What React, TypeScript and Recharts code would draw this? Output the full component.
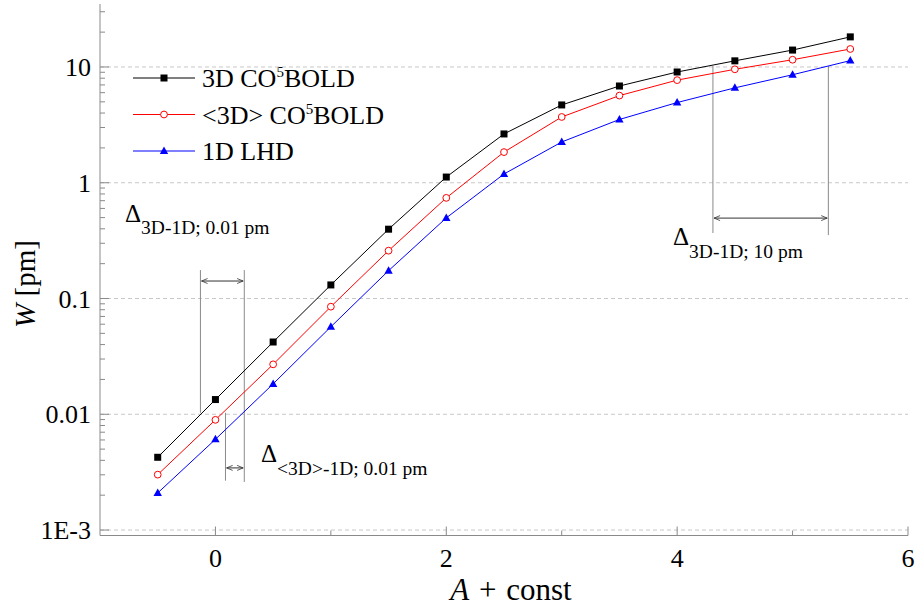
import React from 'react';
import {
  LineChart,
  Line,
  XAxis,
  YAxis,
  ReferenceLine,
  Customized,
} from 'recharts';

// x positions (A + const)
const xValues = [-0.5, 0, 0.5, 1, 1.5, 2, 2.5, 3, 3.5, 4, 4.5, 5, 5.5];

// W [pm] for each model
const w3d = [0.00425, 0.0134, 0.0421, 0.131, 0.397, 1.12, 2.64, 4.7, 6.85, 9.05, 11.3, 14.0, 18.2];
const w3dMean = [0.00301, 0.00895, 0.027, 0.085, 0.259, 0.74, 1.84, 3.7, 5.66, 7.7, 9.55, 11.55, 14.3];
const w1d = [0.00209, 0.00608, 0.0183, 0.057, 0.174, 0.497, 1.19, 2.25, 3.52, 4.93, 6.6, 8.57, 11.35];

const majorY = [0.001, 0.01, 0.1, 1, 10];
const majorYLabels = ['1E-3', '0.01', '0.1', '1', '10'];
const minorMult = [2, 3, 4, 5, 6, 7, 8, 9];
const yDomain: [number, number] = [0.000897, 35];

const xTicks = [0, 1, 2, 3, 4, 5, 6];
const xMajor = [0, 2, 4, 6];
const xDomain: [number, number] = [-1, 6];

const data = xValues.map((x, i) => ({ x, a: w3d[i], b: w3dMean[i], c: w1d[i] }));

const yTicks: number[] = [];
majorY.forEach((m) => {
  yTicks.push(m);
  minorMult.forEach((k) => {
    const v = m * k;
    if (v < yDomain[1]) yTicks.push(v);
  });
});

const FONT = 'Liberation Serif, Times New Roman, serif';
const AXIS = '#8a8a8a';

const isMajorY = (v: number) => majorY.some((m) => Math.abs(m - v) / m < 1e-6);
const yLabel = (v: number) => majorYLabels[majorY.findIndex((m) => Math.abs(m - v) / m < 1e-6)];

const LeftTick = (props: any) => {
  const { x, y, payload } = props;
  const major = isMajorY(payload.value);
  return (
    <g>
      <line x1={x} x2={x + (major ? 9 : 5)} y1={y} y2={y} stroke={AXIS} />
      {major && (
        <text x={x - 9} y={y + 9} textAnchor="end" fontFamily={FONT} fontSize={26} fill="#000">
          {yLabel(payload.value)}
        </text>
      )}
    </g>
  );
};

const RightTick = (props: any) => {
  const { x, y, payload } = props;
  const major = isMajorY(payload.value);
  return <line x1={x} x2={x - (major ? 9 : 5)} y1={y} y2={y} stroke={AXIS} />;
};

const BottomTick = (props: any) => {
  const { x, y, payload } = props;
  const major = xMajor.includes(payload.value);
  return (
    <g>
      <line x1={x} x2={x} y1={y} y2={y - (major ? 9 : 5)} stroke={AXIS} />
      {major && (
        <text x={x} y={y + 31} textAnchor="middle" fontFamily={FONT} fontSize={26} fill="#000">
          {payload.value}
        </text>
      )}
    </g>
  );
};

const TopTick = (props: any) => {
  const { x, y, payload } = props;
  const major = xMajor.includes(payload.value);
  return <line x1={x} x2={x} y1={y} y2={y + (major ? 9 : 5)} stroke={AXIS} />;
};

const SquareDot = (props: any) => {
  const { cx, cy, index } = props;
  if (cx == null || cy == null) return <g key={`s${index}`} />;
  return <rect key={`s${index}`} x={cx - 3.5} y={cy - 3.5} width={7} height={7} fill="#000" />;
};

const CircleDot = (props: any) => {
  const { cx, cy, index } = props;
  if (cx == null || cy == null) return <g key={`c${index}`} />;
  return <circle key={`c${index}`} cx={cx} cy={cy} r={3.4} fill="#fff" stroke="#ff0000" strokeWidth={1} />;
};

const TriangleDot = (props: any) => {
  const { cx, cy, index } = props;
  if (cx == null || cy == null) return <g key={`t${index}`} />;
  return (
    <path
      key={`t${index}`}
      d={`M${cx},${cy - 4.5} L${cx + 4.2},${cy + 3} L${cx - 4.2},${cy + 3} Z`}
      fill="#0000ff"
    />
  );
};

const legendItems = [
  { name: '3D CO', sup: '5', rest: 'BOLD', color: '#000', Dot: SquareDot },
  { name: '<3D> CO', sup: '5', rest: 'BOLD', color: '#ff0000', Dot: CircleDot },
  { name: '1D LHD', sup: '', rest: '', color: '#0000ff', Dot: TriangleDot },
];

const Overlay = () => (
  <g>
    <defs>
      <marker id="arr" markerWidth="8" markerHeight="8" refX="7" refY="4" orient="auto-start-reverse" markerUnits="userSpaceOnUse">
        <path d="M1,1.5 L7,4 L1,6.5" fill="none" stroke="#333" strokeWidth={0.8} />
      </marker>
    </defs>

    {/* legend */}
    {legendItems.map((it, i) => {
      const y = 78 + i * 36.5;
      return (
        <g key={it.name}>
          <line x1={133} x2={195} y1={y} y2={y} stroke={it.color} strokeWidth={1} />
          {it.Dot({ cx: 164, cy: y, index: 100 + i })}
          <text x={202} y={y + 9} fontFamily={FONT} fontSize={26} fill="#000">
            {it.name}
            {it.sup && (
              <tspan dy={-10} fontSize={15}>
                {it.sup}
              </tspan>
            )}
            {it.rest && <tspan dy={10}>{it.rest}</tspan>}
          </text>
        </g>
      );
    })}

    {/* annotations */}
    <text x={125} y={222} fontFamily={FONT} fontSize={25} fill="#000">
      Δ<tspan dy={12} fontSize={19.5}>3D-1D; 0.01 pm</tspan>
    </text>
    <text x={261} y={462} fontFamily={FONT} fontSize={25} fill="#000">
      Δ<tspan dy={13} fontSize={19.5}>{'<3D>-1D; 0.01 pm'}</tspan>
    </text>
    <text x={673} y={245} fontFamily={FONT} fontSize={25} fill="#000">
      Δ<tspan dy={13} fontSize={19.5}>3D-1D; 10 pm</tspan>
    </text>

    {/* axis titles */}
    <text x={511} y={600} textAnchor="middle" fontFamily={FONT} fontSize={31} wordSpacing={2} fill="#000">
      <tspan fontStyle="italic">A</tspan> + const
    </text>
    <text
      x={0}
      y={0}
      transform="translate(35,284) rotate(-90)"
      textAnchor="middle"
      fontFamily={FONT}
      fontSize={29}
      fill="#000"
    >
      <tspan fontStyle="italic">W</tspan> [pm]
    </text>
  </g>
);

const ann = { stroke: '#8a8a8a', strokeWidth: 1, xAxisId: 'b', yAxisId: 'l' } as const;

export default function App() {
  return (
    <div style={{ position: 'absolute', left: 0, top: 0, background: '#fff' }}>
      <LineChart width={916} height={608} data={data} margin={{ top: 4, right: 8, bottom: 0, left: 0 }}>
        <XAxis
          xAxisId="b"
          type="number"
          dataKey="x"
          domain={xDomain}
          ticks={xTicks}
          interval={0}
          allowDataOverflow
          height={72.5}
          tickSize={0}
          tickMargin={0}
          tickLine={false}
          tick={<BottomTick />}
          axisLine={{ stroke: AXIS }}
        />
        <XAxis
          xAxisId="t"
          orientation="top"
          type="number"
          dataKey="x"
          domain={xDomain}
          ticks={xTicks}
          interval={0}
          allowDataOverflow
          height={0}
          tickSize={0}
          tickMargin={0}
          tickLine={false}
          tick={<TopTick />}
          axisLine={{ stroke: AXIS }}
        />
        <YAxis
          yAxisId="l"
          scale="log"
          type="number"
          domain={yDomain}
          ticks={yTicks}
          interval={0}
          allowDataOverflow
          width={100}
          tickSize={0}
          tickMargin={0}
          tickLine={false}
          tick={<LeftTick />}
          axisLine={{ stroke: AXIS }}
        />
        <YAxis
          yAxisId="r"
          orientation="right"
          scale="log"
          type="number"
          domain={yDomain}
          ticks={yTicks}
          interval={0}
          allowDataOverflow
          width={0}
          tickSize={0}
          tickMargin={0}
          tickLine={false}
          tick={<RightTick />}
          axisLine={{ stroke: AXIS }}
        />

        {majorY.map((v) => (
          <ReferenceLine key={v} xAxisId="b" yAxisId="l" y={v} stroke="#c8c8c8" strokeDasharray="4 3" />
        ))}

        {/* delta brackets */}
        <ReferenceLine {...ann} segment={[{ x: -0.13, y: 0.176 }, { x: -0.13, y: 0.0103 }]} />
        <ReferenceLine {...ann} segment={[{ x: 0.25, y: 0.176 }, { x: 0.25, y: 0.0026 }]} />
        <ReferenceLine
          {...ann}
          stroke="#333"
          markerStart="url(#arr)"
          markerEnd="url(#arr)"
          segment={[{ x: -0.12, y: 0.1416 }, { x: 0.24, y: 0.1416 }]}
        />
        <ReferenceLine {...ann} segment={[{ x: 0.087, y: 0.0103 }, { x: 0.087, y: 0.00267 }]} />
        <ReferenceLine
          {...ann}
          stroke="#333"
          markerStart="url(#arr)"
          markerEnd="url(#arr)"
          segment={[{ x: 0.097, y: 0.00344 }, { x: 0.24, y: 0.00344 }]}
        />
        <ReferenceLine {...ann} segment={[{ x: 4.31, y: 10.2 }, { x: 4.31, y: 0.368 }]} />
        <ReferenceLine {...ann} segment={[{ x: 5.31, y: 10.2 }, { x: 5.31, y: 0.353 }]} />
        <ReferenceLine
          {...ann}
          stroke="#333"
          markerStart="url(#arr)"
          markerEnd="url(#arr)"
          segment={[{ x: 4.32, y: 0.495 }, { x: 5.3, y: 0.495 }]}
        />

        <Line xAxisId="b" yAxisId="l" dataKey="a" stroke="#000" strokeWidth={1} dot={SquareDot} isAnimationActive={false} />
        <Line xAxisId="b" yAxisId="l" dataKey="b" stroke="#ff0000" strokeWidth={1} dot={CircleDot} isAnimationActive={false} />
        <Line xAxisId="b" yAxisId="l" dataKey="c" stroke="#0000ff" strokeWidth={1} dot={TriangleDot} isAnimationActive={false} />

        <Customized component={<Overlay />} />
      </LineChart>
    </div>
  );
}
